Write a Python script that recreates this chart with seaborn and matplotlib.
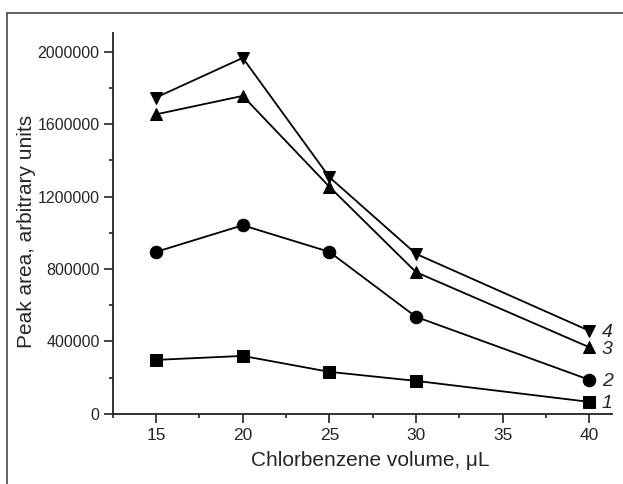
import numpy as np
import pandas as pd
import matplotlib
matplotlib.use("Agg")
import matplotlib.pyplot as plt
import seaborn as sns
from matplotlib.lines import Line2D
from matplotlib.ticker import MultipleLocator, FuncFormatter

volume = [15, 20, 25, 30, 40]
series_1 = [298000, 320000, 232000, 182000, 66000]
series_2 = [895000, 1042000, 895000, 536000, 188000]
series_3 = [1655000, 1757000, 1255000, 783000, 368000]
series_4 = [1748000, 1967000, 1308000, 884000, 459000]
labels = ["1", "2", "3", "4"]
markers = ["s", "o", "^", "v"]

sns.set_style("ticks")
plt.rcParams["font.family"] = ["Liberation Sans", "DejaVu Sans"]

fig = plt.figure(figsize=(6.23, 4.84), dpi=100)
ax = fig.add_axes([0.181, 0.145, 0.801, 0.787])

all_series = [series_1, series_2, series_3, series_4]
for vals, lab, mk in zip(all_series, labels, markers):
    df = pd.DataFrame({"volume": volume, "area": vals})
    sns.lineplot(data=df, x="volume", y="area", ax=ax, color="black",
                 marker=mk, markersize=9, markeredgecolor="black",
                 linewidth=1.3, legend=False)
    ax.annotate(lab, (volume[-1], vals[-1]), xytext=(9, -1.5),
                textcoords="offset points", fontsize=14, style="italic",
                va="center", ha="left")

ax.set_xlim(12.5, 41.3)
ax.set_ylim(0, 2105000)
ax.xaxis.set_major_locator(MultipleLocator(5))
ax.xaxis.set_minor_locator(MultipleLocator(2.5))
ax.yaxis.set_major_locator(MultipleLocator(400000))
ax.yaxis.set_minor_locator(MultipleLocator(200000))
ax.yaxis.set_major_formatter(FuncFormatter(lambda v, p: f"{int(round(v))}"))
ax.tick_params(which="major", length=6.5, width=1.2, direction="out", color="#222222")
ax.tick_params(which="minor", length=3, width=1.2, direction="out", color="#222222")
ax.tick_params(axis="x", which="major", labelsize=12.5, pad=4)
ax.tick_params(axis="y", which="major", labelsize=11.5, pad=3)

sns.despine(ax=ax)
for sp in ["left", "bottom"]:
    ax.spines[sp].set_linewidth(1.3)
    ax.spines[sp].set_color("#222222")

ax.set_xlabel("Chlorbenzene volume, μL", fontsize=15, va="top")
ax.set_ylabel("Peak area, arbitrary units", fontsize=15)
ax.xaxis.set_label_coords(0.515, -0.097)
ax.yaxis.set_label_coords(-0.154, 0.478)

fig.add_artist(Line2D([7 / 623, 1], [1 - 13 / 484, 1 - 13 / 484], transform=fig.transFigure, color="#555555", lw=1.3))
fig.add_artist(Line2D([7 / 623, 7 / 623], [0, 1 - 13 / 484], transform=fig.transFigure, color="#555555", lw=1.3))

fig.savefig("out.png", dpi=100)
